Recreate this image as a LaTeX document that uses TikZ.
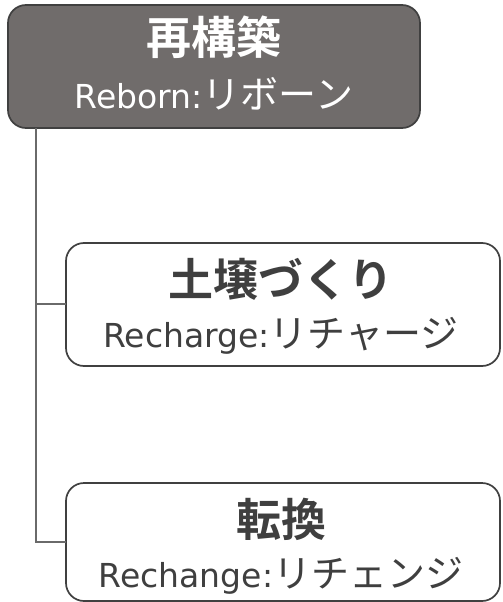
\documentclass[tikz,border=0pt]{standalone}
\usepackage{fontspec}
\setmainfont{Noto Sans CJK JP}
\newfontfamily\jpbold{Noto Sans CJK JP Bold}
\newfontfamily\latf{DejaVu Sans}
\newcommand{\subline}[2]{{\latf\fontsize{33}{35}\selectfont #1}{\fontsize{38}{40}\selectfont #2}}
\definecolor{topfill}{HTML}{706C6B}
\definecolor{edge}{HTML}{404040}
\definecolor{txt}{HTML}{3F3F3F}
\definecolor{linec}{HTML}{6A6A6A}
\tikzset{
  box/.style={draw=edge, line width=1.7pt, rounded corners=18pt},
  conn/.style={draw=linec, line width=1.7pt},
  ttl/.style={font=\jpbold\fontsize{45}{48}\selectfont, anchor=base, inner sep=0pt},
  sub/.style={anchor=base, inner sep=0pt},
}
\begin{document}
\begin{tikzpicture}[x=1pt,y=-1pt]
\useasboundingbox (0,0) rectangle (503,602);
\draw[box, fill=topfill] (8,5) rectangle (420,128);
\node[ttl, text=white] (t1) at (214,55) {再構築};
\node[sub, text=white] (s1) at (214,108) {\subline{Reborn:}{リボーン}};
\draw[box, fill=white] (66,243) rectangle (500,366);
\node[ttl, text=txt] (t2) at (281,296) {土壌づくり};
\node[sub, text=txt] (s2) at (281,347) {\subline{Recharge:}{リチャージ}};
\draw[box, fill=white] (66,483) rectangle (500,601);
\node[ttl, text=txt] (t3) at (281,536) {転換};
\node[sub, text=txt] (s3) at (281,587) {\subline{Rechange:}{リチェンジ}};
\coordinate (top) at (36,128);
\coordinate (j2) at (36,304);
\coordinate (e2) at (66,304);
\coordinate (e3) at (66,542);
\draw[conn] (top) -- (36,542) -- (e3);
\draw[conn] (j2) -- (e2);
\end{tikzpicture}
\end{document}
